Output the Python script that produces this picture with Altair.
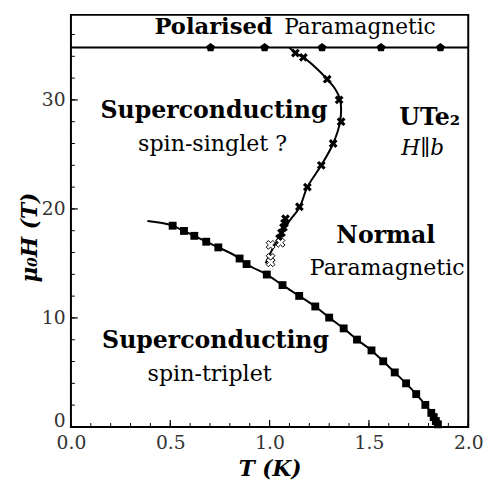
import altair as alt
import pandas as pd

# ---------------- data ----------------
# Hc2 of the low-field (spin-triplet) superconducting phase: squares
sq_T = [0.512, 0.569, 0.621, 0.681, 0.742, 0.849, 0.884, 0.986, 1.065, 1.149,
        1.230, 1.300, 1.373, 1.440, 1.513, 1.572, 1.630, 1.687, 1.738, 1.784,
        1.814, 1.826, 1.837, 1.847]
sq_H = [18.46, 17.98, 17.53, 16.99, 16.47, 15.45, 14.94, 13.98, 13.01, 12.02,
        11.05, 10.03, 9.04, 8.01, 7.02, 6.02, 5.00, 4.00, 3.01, 2.02,
        1.29, 0.90, 0.54, 0.24]
# guide line through the squares
low_T = [0.385] + sq_T + [1.85]
low_H = [18.9] + sq_H + [0.0]

# metamagnetic transition (polarised paramagnet): pentagons
pent_T = [0.703, 0.975, 1.264, 1.561, 1.860]
pent_H = [34.8, 34.8, 34.8, 34.8, 34.8]
pol_T = [0.0, 2.0]
pol_H = [34.8, 34.8]

# high-field superconducting phase boundary: filled and open crosses
xf_T = [1.13, 1.17, 1.29, 1.35, 1.36, 1.32, 1.26, 1.19, 1.15, 1.08, 1.075, 1.07, 1.06, 1.05]
xf_H = [34.3, 33.9, 31.9, 30.0, 28.0, 26.0, 24.0, 22.0, 20.2, 19.1, 18.7, 18.3, 17.8, 17.3]
xo_T = [1.055, 1.005, 1.005, 1.005]
xo_H = [16.9, 16.7, 15.5, 15.1]
# guide line through the crosses
up_T = [0.98, 1.02, 1.06, 1.10, 1.15, 1.19, 1.26, 1.32, 1.355, 1.355, 1.33, 1.29, 1.23, 1.17, 1.13, 1.10]
up_H = [15.0, 16.5, 17.7, 18.9, 20.1, 22.0, 24.0, 26.0, 28.0, 30.0, 31.0, 31.9, 33.0, 33.9, 34.3, 34.8]

# axis ticks
x_major = [0.0, 0.5, 1.0, 1.5, 2.0]
x_minor = [round(0.1 * i, 1) for i in range(21)]
y_major = [0, 10, 20, 30]
y_minor = [0, 2, 4, 6, 8, 10, 12, 14, 16, 18, 20, 22, 24, 26, 28, 30, 32, 34, 36]

# annotations (text, T, H)
bold_center = [("Superconducting", 0.72, 28.33), ("Normal", 1.585, 16.87),
               ("Superconducting", 0.728, 7.28)]
reg_center = [("spin-singlet ?", 0.713, 25.3), ("Paramagnetic", 1.592, 13.98),
              ("spin-triplet", 0.698, 4.24)]
bold_right = [("Polarised", 1.015, 36.0)]
reg_left = [("Paramagnetic", 1.074, 36.0)]
bold_left = [("UTe\u2082", 1.653, 27.7)]
ital_left = [("H\u2225b", 1.663, 24.99)]

# ---------------- chart ----------------
FONT = "DejaVu Serif"
xs = alt.Scale(domain=[0, 2.0], nice=False, zero=False)
ys = alt.Scale(domain=[0, 37.8], nice=False, zero=False)

xaxis = alt.Axis(values=x_major, format=".1f", grid=False, domain=False, ticks=False,
                 tickSize=0, labelPadding=7, labelFont=FONT, labelFontSize=19,
                 labelColor="#333", labelFlush=False,
                 title="T (K)", titleFont=FONT, titleFontSize=22, titleFontWeight="bold",
                 titleFontStyle="italic", titleColor="black", titleX=202, titleY=49,
                 titleBaseline="alphabetic", titleAlign="center")
yaxis = alt.Axis(values=y_major, format="d", grid=False, domain=False, ticks=False,
                 tickSize=0, labelPadding=6, labelFont=FONT, labelFontSize=19,
                 labelColor="#333", labelFlush=True, labelFlushOffset=4,
                 title="\u03bc\u2080H (T)", titleFont=FONT, titleFontSize=22,
                 titleFontWeight="bold", titleFontStyle="italic", titleColor="black",
                 titleX=-42, titleY=226, titleAngle=-90, titleBaseline="middle",
                 titleAlign="center")

X = alt.X("T:Q", scale=xs, axis=xaxis)
Y = alt.Y("H:Q", scale=ys, axis=yaxis)


def df(T, H):
    return pd.DataFrame({"T": T, "H": H, "i": list(range(len(T)))})


def tdf(rows):
    return pd.DataFrame(rows, columns=["text", "T", "H"])


pent_path = "M0,-1L0.951,-0.309L0.588,0.809L-0.588,0.809L-0.951,-0.309Z"
x_path = ("M-0.5,-1L0,-0.5L0.5,-1L1,-0.5L0.5,0L1,0.5L0.5,1L0,0.5L-0.5,1"
          "L-1,0.5L-0.5,0L-1,-0.5Z")

layers = []

# ticks (inward)
layers.append(alt.Chart(pd.DataFrame({"T": x_minor})).mark_rule(color="black", strokeWidth=1)
              .encode(x=X, y=alt.value(419), y2=alt.value(415)))
layers.append(alt.Chart(pd.DataFrame({"T": x_major})).mark_rule(color="black", strokeWidth=1.2)
              .encode(x=X, y=alt.value(419), y2=alt.value(412)))
layers.append(alt.Chart(pd.DataFrame({"H": y_minor})).mark_rule(color="black", strokeWidth=1)
              .encode(y=Y, x=alt.value(0), x2=alt.value(4)))
layers.append(alt.Chart(pd.DataFrame({"H": y_major})).mark_rule(color="black", strokeWidth=1.2)
              .encode(y=Y, x=alt.value(0), x2=alt.value(7)))

# lines
layers.append(alt.Chart(df(pol_T, pol_H)).mark_line(color="black", strokeWidth=2)
              .encode(x=X, y=Y, order="i:Q"))
layers.append(alt.Chart(df(low_T, low_H)).mark_line(color="black", strokeWidth=2,
                                                    interpolate="monotone")
              .encode(x=X, y=Y, order="i:Q"))
layers.append(alt.Chart(df(up_T, up_H)).mark_line(color="black", strokeWidth=2,
                                                  interpolate="catmull-rom")
              .encode(x=X, y=Y, order="i:Q"))

# markers
layers.append(alt.Chart(df(sq_T, sq_H)).mark_point(shape="square", filled=True, color="black",
                                                   size=64, opacity=1)
              .encode(x=X, y=Y))
layers.append(alt.Chart(df(pent_T, pent_H)).mark_point(shape=pent_path, filled=True,
                                                       color="black", size=90, opacity=1)
              .encode(x=X, y=Y))
layers.append(alt.Chart(df(xf_T, xf_H)).mark_point(shape=x_path, filled=True, color="black",
                                                   size=80, opacity=1)
              .encode(x=X, y=Y))
layers.append(alt.Chart(df(xo_T, xo_H)).mark_point(shape=x_path, fill="white", stroke="black",
                                                   strokeWidth=1, size=80, opacity=1)
              .encode(x=X, y=Y))

# annotations
def text_layer(rows, align, weight="normal", style="normal", size=21):
    return (alt.Chart(tdf(rows))
            .mark_text(align=align, baseline="alphabetic", font=FONT, fontSize=size,
                       fontWeight=weight, fontStyle=style, color="black")
            .encode(x=X, y=Y, text="text:N"))


layers.append(text_layer(bold_center, "center", weight="bold", size=24))
layers.append(text_layer(reg_center, "center", size=22.5))
layers.append(text_layer(bold_right, "right", weight="bold", size=23))
layers.append(text_layer(reg_left, "left", size=22))
layers.append(text_layer(bold_left, "left", weight="bold", size=24))
layers.append(text_layer(ital_left, "left", style="italic", size=22))

chart = (alt.layer(*layers)
         .properties(width=404, height=419,
                     autosize=alt.AutoSizeParams(type="none"),
                     padding={"left": 64, "top": 3, "right": 15, "bottom": 52})
         .configure_view(stroke="black", strokeWidth=2))

chart.save("out.html", embed_options={"renderer": "svg", "actions": False})
